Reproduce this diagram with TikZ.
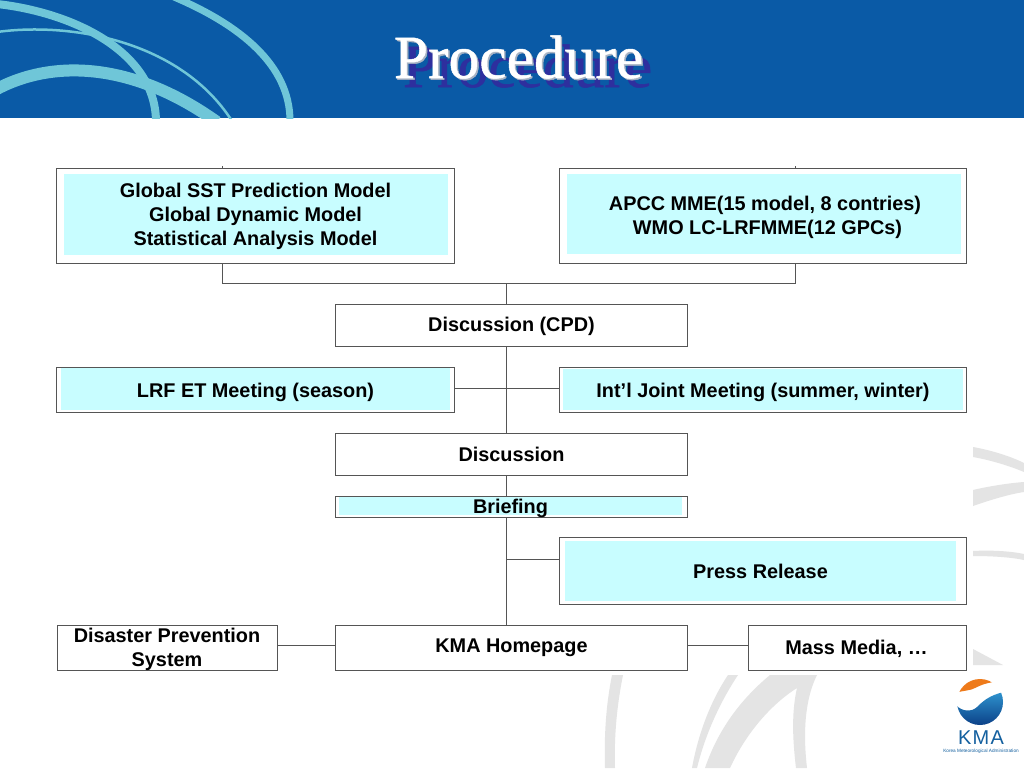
\documentclass[tikz,border=0pt]{standalone}
\usepackage{fontspec}
\setmainfont{Liberation Sans}
\newfontfamily\titlefont[FakeBold=0.8]{Liberation Serif}
\definecolor{Banner}{HTML}{0A5AA6}
\definecolor{Swirl}{HTML}{6FC6D8}
\definecolor{Tint}{HTML}{C8FDFF}
\definecolor{Rule}{HTML}{555555}
\definecolor{Water}{HTML}{E4E4E4}
\definecolor{TitleBack}{HTML}{2E2F9E}
\definecolor{TitleEdge}{HTML}{A9B4C4}
\definecolor{LogoBlue}{HTML}{14609F}
\definecolor{LogoDeep}{HTML}{0B3F86}
\definecolor{LogoLight}{HTML}{2E93CE}
\definecolor{LogoOrange}{HTML}{EE7A1A}
\newcommand\nudge[2]{\raisebox{-#1pt}[\height][\depth]{#2}}
\begin{document}
\begin{tikzpicture}[x=1pt, y=-1pt,
	line width = 1pt,
	vertex/.style={draw=Rule,fill=white,rectangle,inner sep=0pt,align=center,text=black,
		font=\fontsize{19.85}{24}\selectfont\bfseries},
	tinted/.style n args={4}{path picture={\fill[Tint]
		([shift={(#1pt,-#2pt)}]path picture bounding box.north west) rectangle
		([shift={(-#3pt,#4pt)}]path picture bounding box.south east);}},
	link/.style={draw=Rule},
	swirl/.style={draw=Swirl},
	water/.style={fill=Water},
	heading/.style={font=\titlefont\fontsize{61.5}{64}\selectfont}]

	\useasboundingbox (0,0) rectangle (1024,768);
	\fill[white] (0,0) rectangle (1024,768);

	% watermark
	\fill[water] (973,447) .. controls (990,450) and (1010,456) .. (1024,463) -- (1024,472) .. controls (1010,466) and (990,460) .. (973,457) -- cycle;
	\fill[water] (973,490) .. controls (990,486) and (1010,483) .. (1024,482) -- (1024,492) .. controls (1010,494) and (990,500) .. (973,506) -- cycle;
	\fill[water] (973,551) .. controls (990,550) and (1010,551) .. (1024,554) -- (1024,560) .. controls (1010,557) and (990,556) .. (973,556) -- cycle;
	\fill[water] (973,649) -- (1003,665) -- (973,665) -- cycle;
	\fill[water] (612,675) -- (623,675) .. controls (617,705) and (614,735) .. (615,768) -- (605,768) .. controls (604,735) and (606,705) .. (612,675) -- cycle;
	\fill[water] (728,675) -- (738,675) .. controls (720,702) and (705,735) .. (697,768) -- (692,768) .. controls (698,735) and (710,702) .. (728,675) -- cycle;
	\fill[water] (770,675) -- (817,675) .. controls (807,695) and (802,725) .. (807,768) -- (796,768) .. controls (792,735) and (792,710) .. (797,688) .. controls (770,705) and (745,735) .. (730,768) -- (705,768) .. controls (718,730) and (740,700) .. (770,675) -- cycle;

	% banner
	\fill[Banner] (0,0) rectangle (1024,118);
	\begin{scope}
		\clip (0,0) rectangle (1024,118);
		\draw[swirl, line width=7pt] (174,-3) .. controls (240,25) and (290,65) .. (290,121);
		\draw[swirl, line width=8pt] (-3,4) .. controls (70,12) and (155,50) .. (156,121);
		\draw[swirl, line width=2.5pt] (-3,32) .. controls (70,22) and (180,40) .. (232,121);
		\draw[swirl, line width=12pt] (-5,90) .. controls (50,60) and (130,60) .. (217,122);
	\end{scope}
	\node[heading, text=TitleBack] (titleback) at (527.5,66) {Procedure};
	\node[heading, text=TitleEdge] (titleedge) at (520,58.5) {Procedure};
	\node[heading, text=white] (title) at (518.5,57) {Procedure};

	% connectors
	\coordinate (join) at (506,283.5);
	\coordinate (tickA) at (222,166);
	\coordinate (tickB) at (795,166);
	\coordinate (meet) at (506,388);
	\coordinate (pressjoin) at (506,559);
	\coordinate (massline) at (506,645.5);

	% boxes
	\node[vertex, tinted={7}{6}{6}{8}, minimum width=397.5pt, minimum height=95pt] (sst) at (255.5,215.5) {\nudge{1}{\begin{tabular}{@{}c@{}}Global SST Prediction Model\\Global Dynamic Model\\Statistical Analysis Model\end{tabular}}};
	\node[vertex, tinted={7}{6}{5}{9}, minimum width=406.5pt, minimum height=95pt] (apcc) at (763,215.5) {\nudge{2}{\begin{tabular}{@{}c@{}}\hspace*{4pt}APCC MME(15 model, 8 contries)\\\hspace*{9pt}WMO LC-LRFMME(12 GPCs)\end{tabular}}};
	\node[vertex, minimum width=352.5pt, minimum height=42pt] (cpd) at (511.5,325) {\nudge{1}{Discussion (CPD)}};
	\node[vertex, tinted={4}{1}{4}{2}, minimum width=397.5pt, minimum height=45pt] (lrf) at (255.5,389.5) {\nudge{3}{LRF ET Meeting (season)}};
	\node[vertex, tinted={3}{2}{3}{2}, minimum width=406.5pt, minimum height=45pt] (joint) at (763,389.5) {\nudge{3}{Int’l Joint Meeting (summer, winter)}};
	\node[vertex, minimum width=352.5pt, minimum height=42pt] (disc) at (511.5,454) {Discussion};
	\node[vertex, tinted={4}{1}{6}{2}, minimum width=352.5pt, minimum height=21pt] (brief) at (511.5,506.5) {\nudge{2}{Briefing\hspace*{2pt}}};
	\node[vertex, tinted={5}{3}{10}{4}, minimum width=406.5pt, minimum height=67pt] (press) at (763,571) {Press Release\hspace*{5pt}};
	\node[vertex, minimum width=220pt, minimum height=45pt] (disaster) at (167,647.5) {\raisebox{-7pt}[20pt][20pt]{\begin{tabular}{@{}c@{}}Disaster Prevention\\System\end{tabular}}};
	\node[vertex, minimum width=352.5pt, minimum height=45pt] (home) at (511.5,647.5) {KMA Homepage};
	\node[vertex, minimum width=218pt, minimum height=45pt] (media) at (857.5,647.5) {\nudge{1}{Mass Media, …}\hspace*{2pt}};

	\draw[link] (tickA) -- (sst.north -| tickA);
	\draw[link] (tickB) -- (apcc.north -| tickB);
	\draw[link] (sst.south -| tickA) -- (join -| tickA) -- (join -| tickB) -- (apcc.south -| tickB);
	\draw[link] (join) -- (cpd.north -| join);
	\draw[link] (cpd.south -| join) -- (disc.north -| join);
	\draw[link] (lrf.east |- meet) -- (joint.west |- meet);
	\draw[link] (disc.south -| join) -- (brief.north -| join);
	\draw[link] (brief.south -| join) -- (home.north -| join);
	\draw[link] (pressjoin) -- (press.west |- pressjoin);
	\draw[link] (disaster.east |- massline) -- (home.west |- massline);
	\draw[link] (home.east |- massline) -- (media.west |- massline);

	% logo
	\begin{scope}
		\clip (980,702) circle (23);
		\fill[white] (956,678) rectangle (1004,726);
		\fill[LogoOrange] (956,693) .. controls (964,690) and (970,691) .. (975,688) .. controls (981,685) and (986,683) .. (994,682) -- (994,678) -- (956,678) -- cycle;
		\shade[top color=LogoLight, bottom color=LogoDeep] (956,705) .. controls (962,712) and (972,712) .. (977,707) .. controls (983,701) and (990,695) .. (1004,692) -- (1004,726) -- (956,726) -- cycle;
	\end{scope}
	\node[text=LogoBlue, font=\fontsize{20}{24}\selectfont\addfontfeature{LetterSpace=6}] (kma) at (981,738) {KMA};
	\node[text=LogoBlue, font=\fontsize{4.7}{6}\selectfont] (kmaname) at (981,751) {Korea Meteorological Administration};
\end{tikzpicture}
\end{document}
